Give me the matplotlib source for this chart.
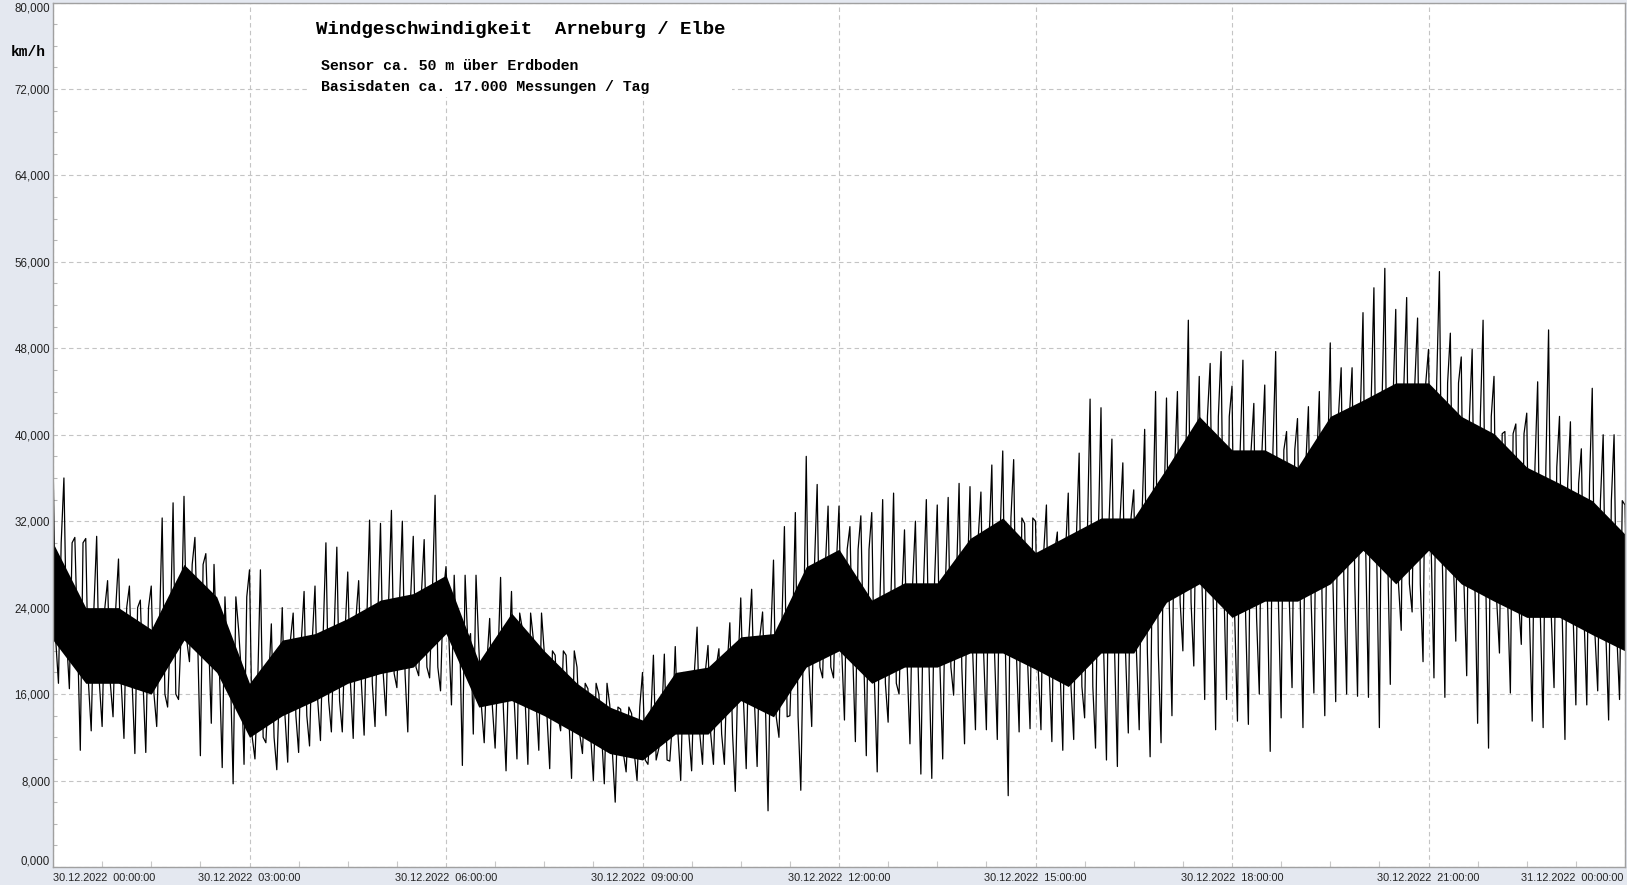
import numpy as np
import pandas as pd
import matplotlib
matplotlib.use("Agg")
import matplotlib.pyplot as plt
import matplotlib.dates as mdates
from matplotlib.ticker import MultipleLocator, FuncFormatter
from matplotlib.patches import Rectangle

# ---------------- data (km/h) ----------------
START = "2022-12-30 00:00:00"

# per 10-minute slot: highest spike / lowest dip
peak_hi = [38, 36, 30.5, 30.4, 30.6, 26.5, 28.5, 26, 24.7, 26,
           32.3, 33.7, 34.3, 30.5, 29, 20.4, 19.1, 22, 27.5, 27.5,
           22.5, 24, 23.5, 25.5, 26, 30, 29.6, 27.3, 26.5, 32.1,
           31.8, 33, 32, 30.6, 30.3, 34.4, 27.8, 20, 20.7, 20.5,
           23, 26.8, 25.5, 22, 21.1, 19.9, 19.6, 19.6, 18.5, 16.5,
           16, 15, 14.6, 14.2, 18, 19.6, 19.7, 20.4, 17.6, 22.2,
           20.5, 20.2, 22.6, 24.9, 25.7, 23.6, 28.4, 31.5, 32.8, 38,
           35.4, 33.4, 33.4, 31.5, 32.5, 32.8, 34, 34.6, 31.2, 32,
           34, 33.5, 34.2, 35.5, 35.2, 34.7, 37.2, 38.5, 37.7, 31.8,
           32, 33.5, 31, 34.6, 38.3, 43.3, 42.5, 39.6, 37.4, 34.9,
           40.5, 44, 43.4, 44, 50.6, 45.4, 46.6, 47.7, 44.5, 46.9,
           42.9, 44.6, 47.7, 40.3, 41.5, 42.6, 44, 48.5, 46.2, 46.2,
           51.3, 53.6, 55.4, 51.6, 52.7, 50.8, 47.9, 55.1, 49.4, 47.2,
           47.9, 50.6, 45.4, 40.3, 41, 42, 44.9, 49.7, 41.7, 41.2,
           38.7, 44.3, 40, 40, 33.5]
peak_lo = [17, 16.5, 10.8, 12.6, 13, 13.9, 11.9, 10.5, 10.6, 13,
           14.8, 15.5, 19, 10.3, 13.3, 9.2, 7.7, 9.5, 10, 11.5,
           9, 9.7, 10.6, 11.2, 11.7, 12.5, 12.5, 11.9, 12.2, 13,
           14, 16.6, 12.5, 17.7, 17.5, 16.3, 15, 9.4, 12.3, 11.5,
           11, 8.9, 10, 9.5, 10.8, 9.1, 12.6, 8.2, 10.5, 8,
           7.7, 6, 8.8, 8, 9.5, 11, 9.8, 8, 8.9, 9.5,
           9.5, 9.5, 7, 9.1, 9.3, 5.2, 12, 14, 7.1, 13,
           17.5, 17.5, 13.6, 11.6, 10.3, 8.8, 13.4, 16, 11.4, 8.6,
           8.2, 10, 15.9, 11.4, 12.7, 12.7, 11.8, 6.6, 12.5, 12.8,
           12.7, 11.6, 10.8, 11.8, 13.8, 11, 9.9, 9.3, 12.4, 12.7,
           10.2, 11.5, 14, 20, 18.6, 15.5, 12.7, 15.5, 13.5, 13.2,
           16, 10.7, 13.8, 16.6, 12.9, 16.1, 14, 15.3, 16, 15.8,
           15.7, 12.9, 16.9, 21.9, 23.6, 19, 17.5, 15.7, 20.9, 17.7,
           13.3, 11, 19.8, 16.1, 20.6, 13.5, 12.9, 16.6, 11.8, 15,
           15, 16.3, 13.6, 15.5, 15.5]

# per 30-minute step: dense band of measurements
core_hi = [30, 24, 24, 22, 28, 25, 17, 21, 21.6, 23, 24.7, 25.3, 27, 19,
           23.5, 20, 17, 14.8, 13.6, 18, 18.5, 21.3, 21.6, 27.8, 29.4, 24.7,
           26.3, 26.3, 30.4, 32.3, 29.1, 30.7, 32.3, 32.3, 36.9, 41.7, 38.6,
           38.6, 37, 41.7, 43.2, 44.8, 44.8, 41.7, 40.1, 37, 35.5, 33.9, 30.8]
core_lo = [21, 17, 17, 16, 21, 18, 12, 14, 15.4, 17, 17.9, 18.5, 21.6, 14.8,
           15.4, 14, 12.3, 10.5, 9.9, 12.3, 12.3, 15.4, 13.9, 18.5, 20, 17,
           18.5, 18.5, 19.8, 19.8, 18.3, 16.7, 19.8, 19.8, 24.5, 26.2, 23.1,
           24.6, 24.6, 26.2, 29.3, 26.2, 29.3, 26.2, 24.6, 23.1, 23.1, 21.5, 20]

TITLE = "Windgeschwindigkeit  Arneburg / Elbe"
SUB1 = "Sensor ca. 50 m über Erdboden"
SUB2 = "Basisdaten ca. 17.000 Messungen / Tag"
# -----------------------------------------------------------------

W, H = 1627, 885
BG = "#e4e8f0"
LABEL_FONT = "Liberation Sans"
MONO = "Liberation Mono"

t0 = pd.Timestamp(START)
t_core = t0 + pd.to_timedelta(np.arange(len(core_hi)) * 30, unit="min")

# trace per 10-min slot: spike top -> band bottom -> dip -> band top
n = len(peak_hi)
slot = t0 + pd.to_timedelta(np.arange(n) * 10, unit="min")
j = np.arange(n) // 3
t_zz = np.empty(4 * n, dtype="datetime64[ns]")
v_zz = np.empty(4 * n)
for k, (off, vals) in enumerate([(0.0, np.array(peak_hi)),
                                 (2.5, np.array(core_lo)[j]),
                                 (5.0, np.array(peak_lo)),
                                 (7.5, np.array(core_hi)[j])]):
    t_zz[k::4] = (slot + pd.Timedelta(minutes=off)).values
    v_zz[k::4] = vals

fig = plt.figure(figsize=(W / 100, H / 100), dpi=100, facecolor=BG)
ax = fig.add_axes([53 / W, 1 - 867 / H, (1625 - 53) / W, (867 - 2.5) / H])
ax.set_facecolor("white")

ax.fill_between(t_core, core_lo, core_hi, color="black", lw=0, zorder=2)
ax.plot(t_zz, v_zz, color="black", lw=0.9, zorder=2.2)

ax.set_xlim(t0, t0 + pd.Timedelta(days=1))
ax.set_ylim(0, 80)

# grid
ax.set_axisbelow(True)
ax.grid(True, which="major", color="#c4c4c4", lw=0.8, linestyle=(0, (4, 3)))


def ylab(v, p):
    if v <= 0 or v >= 80:
        return ""
    return f"{v:.3f}".replace(".", ",")


def xlab(v, p):
    if abs(v - round(v)) < 1e-6:
        return ""
    return mdates.num2date(v).strftime("%d.%m.%Y  %H:%M:%S")


# y axis
ax.yaxis.set_major_locator(MultipleLocator(8))
ax.yaxis.set_minor_locator(MultipleLocator(2))
ax.yaxis.set_major_formatter(FuncFormatter(ylab))
ax.tick_params(axis="y", which="major", length=0, pad=2, labelsize=8.3,
               labelcolor="#222222")
ax.tick_params(axis="y", which="minor", direction="in", length=3,
               color="#b8b8b8", width=0.8)

# x axis
ax.xaxis.set_major_locator(MultipleLocator(3 / 24))
ax.xaxis.set_minor_locator(MultipleLocator(45 / 1440))
ax.xaxis.set_major_formatter(FuncFormatter(xlab))
ax.tick_params(axis="x", which="major", length=0, pad=4, labelsize=7.8,
               labelcolor="#222222")
ax.tick_params(axis="x", which="minor", direction="in", length=4,
               color="#c8c8c8", width=0.8)
for lab in ax.get_xticklabels() + ax.get_yticklabels():
    lab.set_fontfamily(LABEL_FONT)

# end labels, kept inside the axes span
kw = dict(xycoords="axes fraction", textcoords="offset points",
          family=LABEL_FONT, color="#222222")
ax.annotate(t0.strftime("%d.%m.%Y  %H:%M:%S"), (0, 0), xytext=(0, -4),
            ha="left", va="top", fontsize=7.8, **kw)
ax.annotate((t0 + pd.Timedelta(days=1)).strftime("%d.%m.%Y  %H:%M:%S"),
            (1, 0), xytext=(-1, -4), ha="right", va="top", fontsize=7.8, **kw)
ax.annotate("0,000", (0, 0), xytext=(-2, 0), ha="right", va="bottom",
            fontsize=8.3, **kw)
ax.annotate("80,000", (0, 1), xytext=(-2, 0), ha="right", va="top",
            fontsize=8.3, **kw)

for s in ax.spines.values():
    s.set_color("#a0a0a0")
    s.set_linewidth(1)

# white box behind the heading texts
ax.add_patch(Rectangle((308 / W, 1 - 97 / H), (732 - 308) / W, (97 - 6) / H,
                       transform=fig.transFigure, facecolor="white",
                       edgecolor="none", zorder=1.5))

fig.text(316 / W, 1 - 29 / H, TITLE, family=MONO, weight="bold",
         fontsize=13.7, va="center", ha="left", color="black")
fig.text(321 / W, 1 - 66 / H, SUB1, family=MONO, weight="bold",
         fontsize=10.7, va="center", ha="left", color="black")
fig.text(321 / W, 1 - 87 / H, SUB2, family=MONO, weight="bold",
         fontsize=10.7, va="center", ha="left", color="black")
fig.text(11 / W, 1 - 52 / H, "km/h", family=MONO, weight="bold",
         fontsize=10.5, va="center", ha="left", color="black")

fig.savefig("out.png", dpi=100, facecolor=BG)
